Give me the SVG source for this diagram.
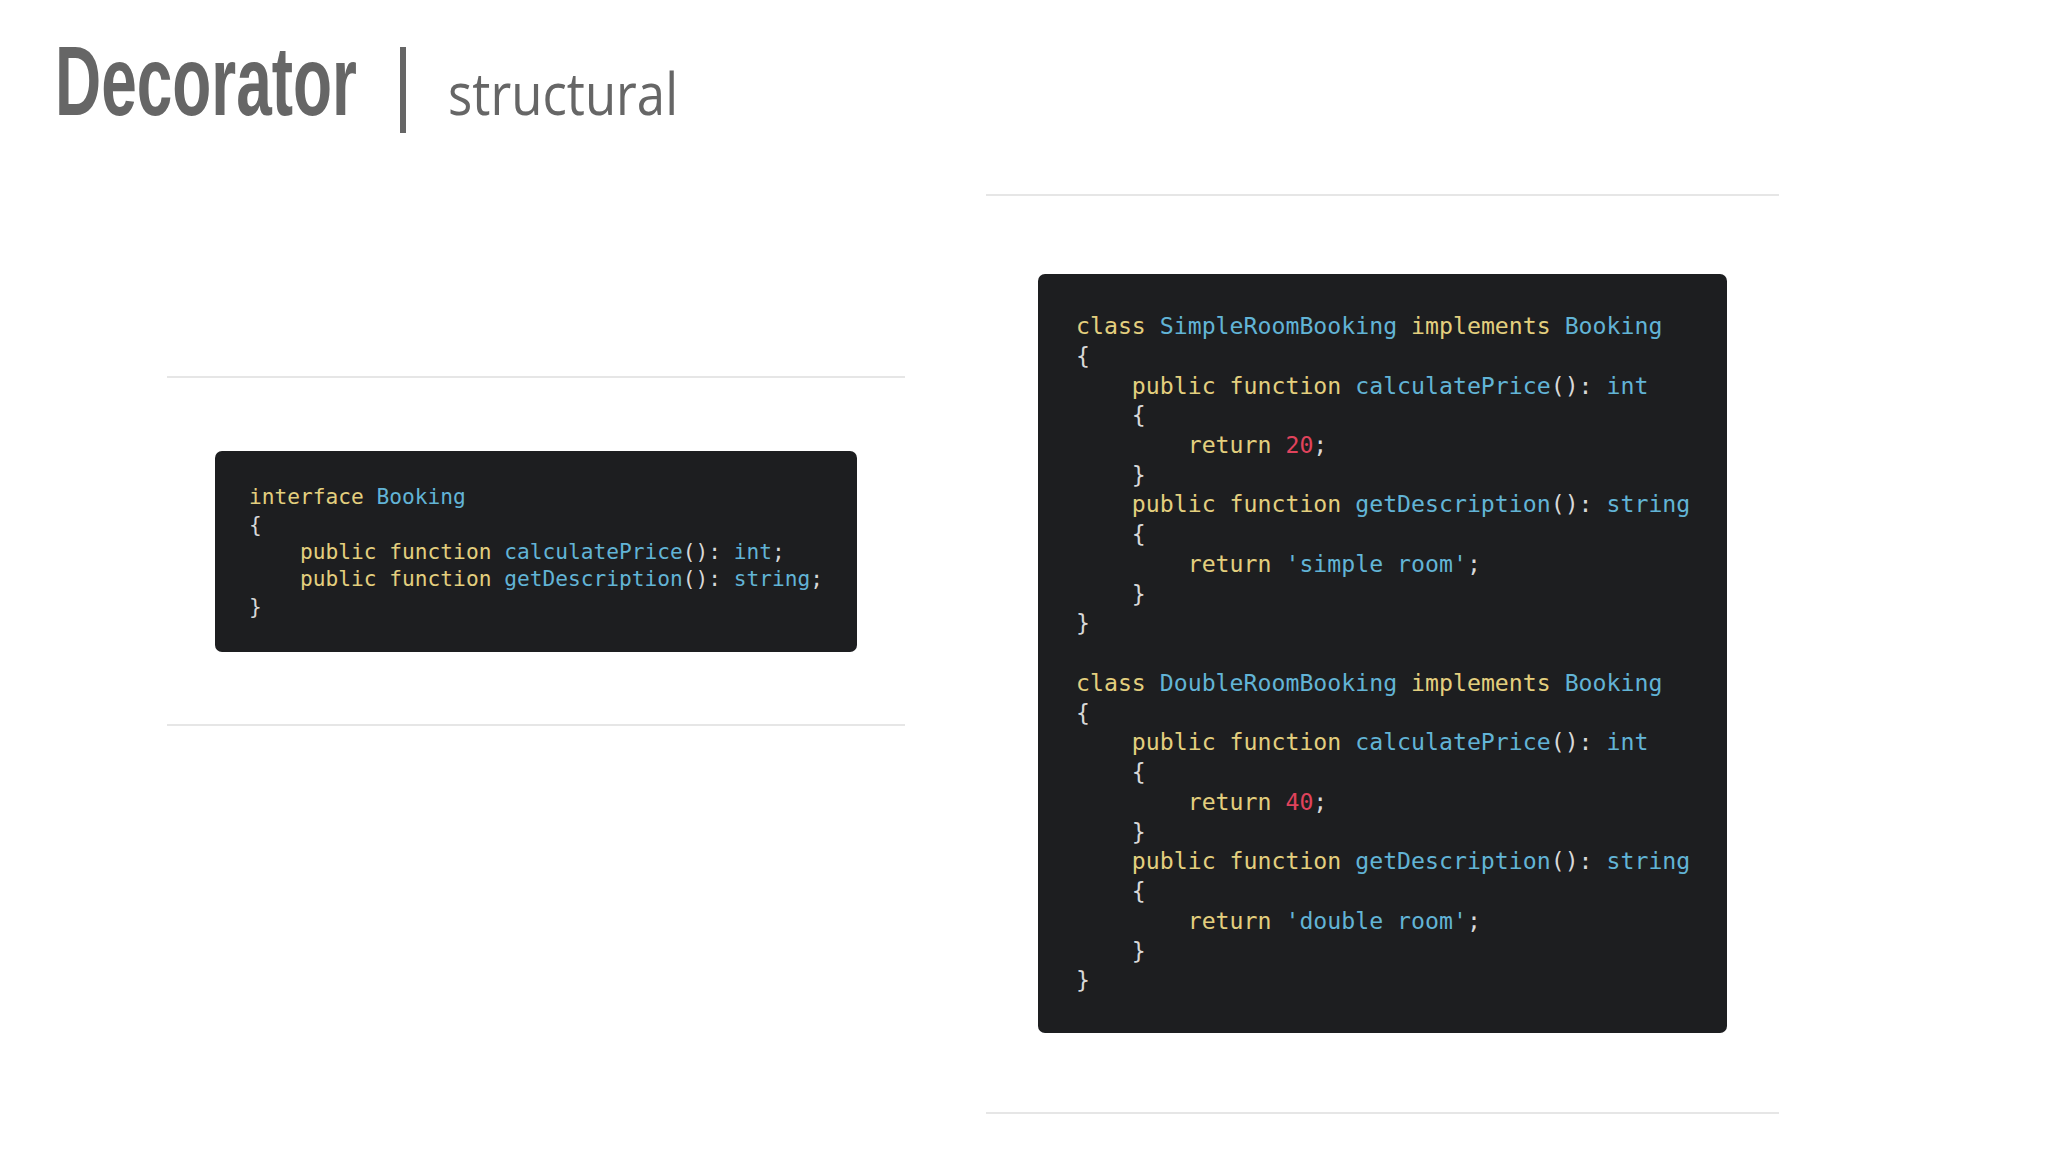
<svg xmlns="http://www.w3.org/2000/svg" width="2048" height="1152" viewBox="0 0 2048 1152">
<style>
.code{font-family:"DejaVu Sans Mono",monospace;fill:#d8d8d8;white-space:pre}
.k{fill:#e3cf7e}.b{fill:#62b4d6}.n{fill:#e0435c}
.rule{stroke:#e6e6e6;stroke-width:2}
</style>
<rect width="2048" height="1152" fill="#fff"/>
<g id="title">
<text x="55" y="115" font-family="Liberation Sans, sans-serif" font-weight="bold" font-size="98" fill="#666" textLength="302" lengthAdjust="spacingAndGlyphs">Decorator</text>
<rect x="400" y="47" width="6" height="86" fill="#666"/>
<text x="448" y="115" font-family="Open Sans, sans-serif" font-size="58" fill="#666" textLength="230" lengthAdjust="spacingAndGlyphs">structural</text>
</g>
<g id="rules">
<line class="rule" x1="167" y1="377" x2="905" y2="377"/>
<line class="rule" x1="167" y1="725" x2="905" y2="725"/>
<line class="rule" x1="986" y1="195" x2="1779" y2="195"/>
<line class="rule" x1="986" y1="1113" x2="1779" y2="1113"/>
</g>
<g id="interface">
<rect x="215" y="451" width="642" height="201" rx="7" fill="#1d1e20"/>
<text class="code" font-size="21.2">
<tspan x="249" y="504"><tspan class="k">interface</tspan> <tspan class="b">Booking</tspan></tspan>
<tspan x="249" y="531.5">{</tspan>
<tspan x="249" y="559">    <tspan class="k">public</tspan> <tspan class="k">function</tspan> <tspan class="b">calculatePrice</tspan>(): <tspan class="b">int</tspan>;</tspan>
<tspan x="249" y="586">    <tspan class="k">public</tspan> <tspan class="k">function</tspan> <tspan class="b">getDescription</tspan>(): <tspan class="b">string</tspan>;</tspan>
<tspan x="249" y="614">}</tspan>
</text>
</g>
<g id="classes">
<rect x="1038" y="274" width="689" height="759" rx="7" fill="#1d1e20"/>
<text class="code" font-size="23.2">
<tspan x="1076" y="334"><tspan class="k">class</tspan> <tspan class="b">SimpleRoomBooking</tspan> <tspan class="k">implements</tspan> <tspan class="b">Booking</tspan></tspan>
<tspan x="1076" y="363.7">{</tspan>
<tspan x="1076" y="393.5">    <tspan class="k">public</tspan> <tspan class="k">function</tspan> <tspan class="b">calculatePrice</tspan>(): <tspan class="b">int</tspan></tspan>
<tspan x="1076" y="423.2">    {</tspan>
<tspan x="1076" y="453">        <tspan class="k">return</tspan> <tspan class="n">20</tspan>;</tspan>
<tspan x="1076" y="482.7">    }</tspan>
<tspan x="1076" y="512.4">    <tspan class="k">public</tspan> <tspan class="k">function</tspan> <tspan class="b">getDescription</tspan>(): <tspan class="b">string</tspan></tspan>
<tspan x="1076" y="542.2">    {</tspan>
<tspan x="1076" y="571.9">        <tspan class="k">return</tspan> <tspan class="b">'simple room'</tspan>;</tspan>
<tspan x="1076" y="601.7">    }</tspan>
<tspan x="1076" y="631.4">}</tspan>
<tspan x="1076" y="690.9"><tspan class="k">class</tspan> <tspan class="b">DoubleRoomBooking</tspan> <tspan class="k">implements</tspan> <tspan class="b">Booking</tspan></tspan>
<tspan x="1076" y="720.6">{</tspan>
<tspan x="1076" y="750.4">    <tspan class="k">public</tspan> <tspan class="k">function</tspan> <tspan class="b">calculatePrice</tspan>(): <tspan class="b">int</tspan></tspan>
<tspan x="1076" y="780.1">    {</tspan>
<tspan x="1076" y="809.8">        <tspan class="k">return</tspan> <tspan class="n">40</tspan>;</tspan>
<tspan x="1076" y="839.6">    }</tspan>
<tspan x="1076" y="869.3">    <tspan class="k">public</tspan> <tspan class="k">function</tspan> <tspan class="b">getDescription</tspan>(): <tspan class="b">string</tspan></tspan>
<tspan x="1076" y="899.1">    {</tspan>
<tspan x="1076" y="928.8">        <tspan class="k">return</tspan> <tspan class="b">'double room'</tspan>;</tspan>
<tspan x="1076" y="958.5">    }</tspan>
<tspan x="1076" y="988.3">}</tspan>
</text>
</g>
</svg>
